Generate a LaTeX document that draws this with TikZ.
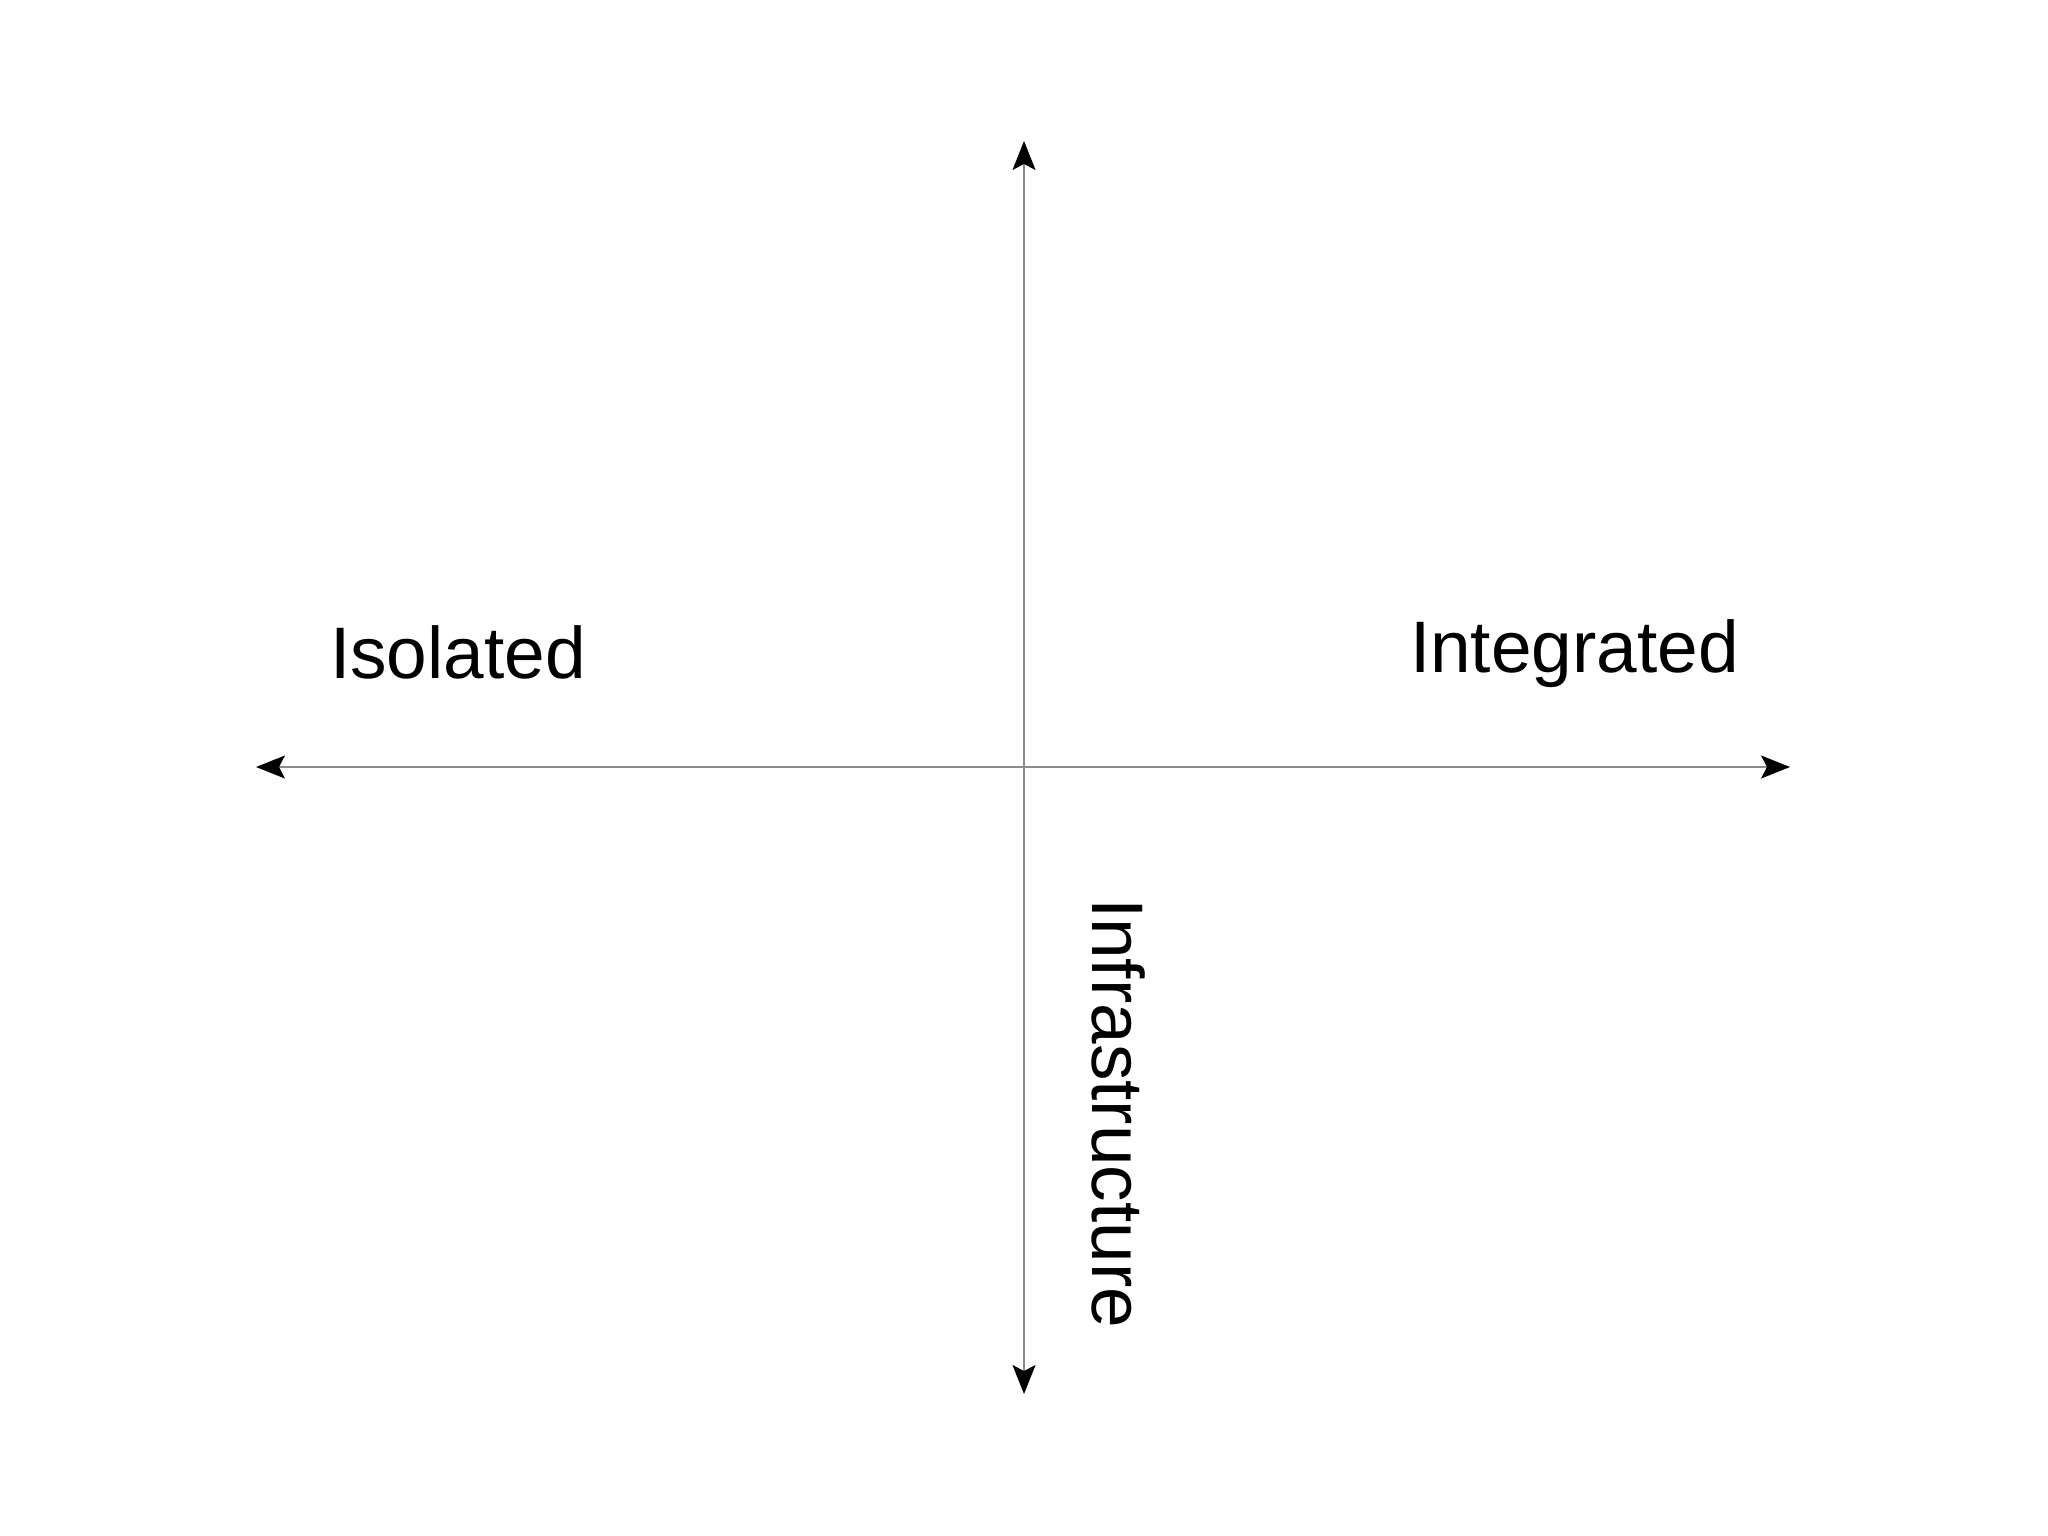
\documentclass[tikz,border=0pt]{standalone}
\usepackage{fontspec}
\setmainfont{Liberation Sans}
\usetikzlibrary{arrows.meta}
\begin{document}
\begin{tikzpicture}[x=0.5pt,y=-0.5pt,
  tip/.style={Stealth[length=14.5pt,width=11.5pt,inset=3pt,color=black]},
  axis/.style={draw=black!45,line width=0.6pt,{Stealth[length=14.5pt,width=11.5pt,inset=3pt,color=black]}-{Stealth[length=14.5pt,width=11.5pt,inset=3pt,color=black]}},
  lbl/.style={inner sep=0pt,outer sep=0pt,font=\fontsize{36.5pt}{44pt}\selectfont,anchor=base west}]
\useasboundingbox (0,0) rectangle (2048,1535);
\coordinate (top) at (1024,141);
\coordinate (bottom) at (1024,1394);
\coordinate (left) at (256,767);
\coordinate (right) at (1790,767);
\draw[axis] (left) -- (right);
\draw[axis] (bottom) -- (top);
\node[lbl] (iso) at (330,678) {Isolated};
\node[lbl] (int) at (1410,672) {Integrated};
\node[lbl,rotate=-90] (inf) at (1092,898) {Infrastructure};
\end{tikzpicture}
\end{document}
